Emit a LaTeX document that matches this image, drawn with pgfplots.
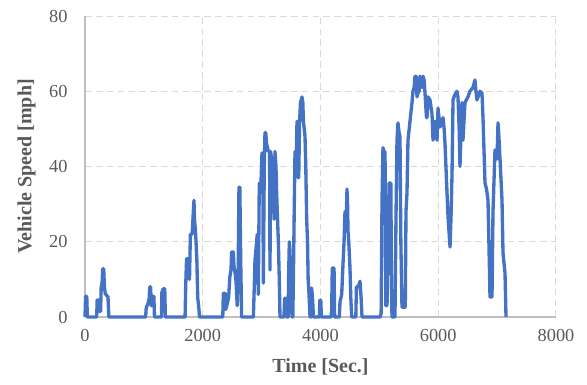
\documentclass[border=0pt]{standalone}
\usepackage{pgfplots}
\pgfplotsset{compat=1.18}
\usepackage{fontspec}
\setmainfont{Liberation Serif}
\definecolor{line}{HTML}{4472C4}
\definecolor{txt}{HTML}{595959}
\definecolor{gridc}{HTML}{D9D9D9}
\definecolor{axc}{HTML}{BFBFBF}
\begin{document}
\begin{tikzpicture}
\begin{axis}[
  at={(0,0)}, anchor=south west,
  scale only axis, width=282.6pt, height=180.6pt,
  xmin=0, xmax=8000, ymin=0, ymax=80,
  xtick={0,2000,4000,6000,8000}, ytick={0,20,40,60,80},
  axis lines=left, axis line style={-, draw=axc, line width=0.8pt},
  major tick length=0pt,
  grid=major, major grid style={dash pattern=on 4pt off 2.5pt, draw=gridc, line width=0.6pt},
  /pgf/number format/assume math mode=true,
  /pgf/number format/1000 sep={},
  tick label style={font=\fontsize{11}{13}\selectfont, text=txt},
  xticklabel style={yshift=-4pt},
  yticklabel style={xshift=-7pt},
  xlabel={Time [Sec.]}, ylabel={Vehicle Speed [mph]},
  label style={font=\fontsize{12}{14}\selectfont\bfseries, text=txt},
  xlabel style={at={([yshift=-30pt]axis description cs:0.5,0)}, anchor=center},
  ylabel style={at={([xshift=-35pt]axis description cs:0,0.5)}, anchor=center},
  clip=false,
]
\addplot[line, line width=2pt, line join=round] coordinates {
(0,0)(10,5.5)(30,5.5)(40,0)(200,0)(205,4.5)(235,4.5)(245,1.5)(265,1.5)(275,8)(290,9)(300,12.8)(318,12.8)(330,8)(345,6)(360,6)(375,5.5)(390,5.5)(405,0)
(1030,0)(1040,2.5)(1070,3.5)(1090,5)(1100,8)(1115,8)(1125,3)(1140,3)(1150,5.5)(1170,5.5)(1180,0)(1300,0)(1305,6.5)(1330,7.5)(1355,7.5)(1365,0)
(1700,0)(1710,8)(1725,15.5)(1760,15.5)(1775,10)(1790,22)(1820,22)(1840,28)(1851,31)(1860,26)(1880,22)(1900,15)(1915,5)(1930,3)(1945,0)
(2340,0)(2350,6.3)(2380,6.3)(2390,2)(2420,3.7)(2440,5.3)(2460,10.6)(2480,12.5)(2490,17.3)(2520,17.3)(2530,13.6)(2560,10.6)(2570,8)(2585,3)(2600,10)(2615,34.5)(2630,34.5)(2645,15)(2660,0)
(2860,0)(2875,8)(2887,15)(2926,22)(2944,6)(2960,35.6)(2983,33)(3006,43.6)(3020,43.6)(3029,9)(3045,40)(3057,49)(3070,49)(3085,46)(3114,44)(3135,44)(3142,12.5)(3153,44)(3170,42)(3199,40)(3210,26)(3227,44)(3244,40)(3255,33)(3284,20)(3300,10)(3312,0)
(3380,0)(3390,5)(3410,5)(3425,0)(3450,0)(3460,12)(3470,20)(3480,18)(3500,8)(3516,0)(3530,0)(3540,10.6)(3555,30)(3567,44)(3590,44)(3601,52)(3610,45)(3618,37)(3630,37)(3645,52)(3660,57)(3686,58.5)(3700,57)(3710,52)(3737,48)(3750,40)(3765,26)(3780,20)(3790,10)(3805,6)(3822,0)(3840,0)(3850,7.7)(3865,5)(3880,0)(3980,0)(3990,4.5)(4005,4.5)(4015,0)
(4180,0)(4190,2)(4200,13)(4230,13)(4240,0)(4320,0)(4331,4)(4360,6)(4382,14)(4400,20)(4416,28)(4440,28)(4450,34)(4460,30)(4467,23)(4480,20)(4501,13)(4515,5)(4530,0)(4600,0)(4610,8)(4640,8)(4671,9.5)(4690,5)(4705,0)
(5011,0)(5030,1)(5045,31)(5061,45)(5080,44)(5096,44)(5110,3)(5130,3)(5150,20)(5165,35.6)(5195,35.6)(5205,10)(5214,0)(5265,0)(5275,15)(5282,26)(5299,47)(5316,51.6)(5335,49)(5350,48)(5365,20)(5384,2.6)(5440,2.6)(5452,28)(5469,33)(5486,47)(5520,52)(5554,57)(5571,60)(5590,61)(5605,64)(5625,64)(5639,58.5)(5656,59.5)(5675,60)(5690,64)(5724,61)(5741,64)(5760,63)(5775,59.5)(5800,53)(5809,53)(5826,58.5)(5860,57.7)(5894,54)(5911,47)(5945,52)(5979,47)(5996,55.5)(6030,50.5)(6064,52)(6081,53)(6100,50)(6115,46)(6149,33)(6166,26.6)(6200,18.6)(6220,28)(6234,38)(6251,57.7)(6280,59)(6318,60)(6335,58.5)(6355,50)(6369,40)(6403,57)(6420,47)(6454,57)(6505,58.5)(6539,60)(6590,61)(6624,63)(6640,60)(6658,57.7)(6709,60)(6743,59.5)(6760,53)(6794,35.6)(6820,34)(6845,31)(6860,20)(6879,5.3)(6913,5.3)(6930,28)(6964,44.4)(6998,42)(7015,51.6)(7030,48)(7049,42)(7083,31)(7100,17)(7134,11.7)(7151,0)
};
\end{axis}
\pgfresetboundingbox
\path (-51pt,-40.2pt) rectangle (301.2pt,190.2pt);
\end{tikzpicture}
\end{document}
